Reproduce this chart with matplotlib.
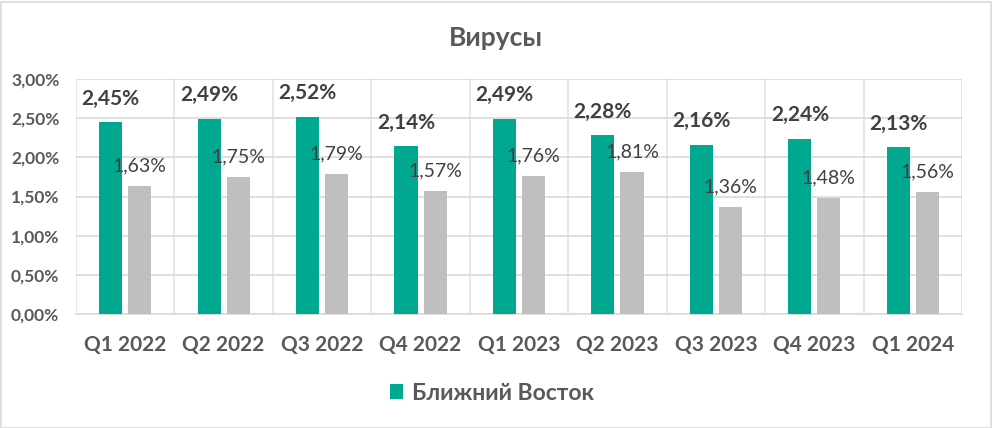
import numpy as np
import matplotlib
matplotlib.use("Agg")
import matplotlib.pyplot as plt
from matplotlib.patches import Rectangle

categories = ["Q1 2022", "Q2 2022", "Q3 2022", "Q4 2022", "Q1 2023",
              "Q2 2023", "Q3 2023", "Q4 2023", "Q1 2024"]
near_east = [2.45, 2.49, 2.52, 2.14, 2.49, 2.28, 2.16, 2.24, 2.13]
other = [1.63, 1.75, 1.79, 1.57, 1.76, 1.81, 1.36, 1.48, 1.56]
yticks = [0, 0.5, 1.0, 1.5, 2.0, 2.5, 3.0]

TEAL = "#00A88F"
GREY = "#BFBFBF"
TXT = "#404040"
AX = "#595959"

plt.rcParams["font.family"] = ["Lato", "DejaVu Sans"]

fig = plt.figure(figsize=(9.92, 4.28), dpi=100)
ax = fig.add_axes([76 / 992, 1 - 314 / 428, 886 / 992, 235 / 428])

x = np.arange(len(categories))
w = 0.235
gap = 0.03
ax.bar(x - w / 2 - gap, near_east, width=w, color=TEAL, zorder=3, label="Ближний Восток")
ax.bar(x + w / 2 + gap, other, width=w, color=GREY, zorder=3)

for xi, v in zip(x, near_east):
    ax.annotate(f"{v:.2f}%".replace(".", ","), (xi - w / 2 - gap, v), xytext=(0, 17),
                textcoords="offset points", ha="center", va="center",
                fontsize=15, fontweight="bold", color=TXT)
for xi, v in zip(x, other):
    ax.annotate(f"{v:.2f}%".replace(".", ","), (xi + w / 2 + gap, v), xytext=(0, 14.5),
                textcoords="offset points", ha="center", va="center",
                fontsize=14, color=TXT)

ax.set_xlim(-0.5, len(categories) - 0.5)
ax.set_ylim(0, 3.0)
ax.set_yticks(yticks)
ax.set_yticklabels([f"{t:.2f}%".replace(".", ",") for t in yticks],
                   fontsize=12.5, fontweight="bold", color=AX)
ax.set_xticks(x)
ax.set_xticklabels(categories, fontsize=15, fontweight="bold", color=AX)
ax.set_xticks(np.arange(len(categories) + 1) - 0.5, minor=True)
ax.tick_params(axis="both", which="both", length=0)
ax.tick_params(axis="x", pad=15)
ax.tick_params(axis="y", pad=12)
ax.grid(axis="y", color="#D9D9D9", lw=1.2, zorder=0)
ax.grid(axis="x", which="minor", color="#E3E3E3", lw=1.2, zorder=0)
for s in ["top", "right", "left"]:
    ax.spines[s].set_visible(False)
ax.spines["bottom"].set_color("#D9D9D9")
ax.spines["bottom"].set_linewidth(1.2)

fig.text(0.5, 1 - 38 / 428, "Вирусы", ha="center", va="center",
         fontsize=19, fontweight="bold", color=AX)

leg = fig.legend(loc="center", bbox_to_anchor=(492 / 992, 1 - 393 / 428), frameon=False,
                 prop={"size": 16.5, "weight": "bold"}, handlelength=0.6, handleheight=0.6,
                 handletextpad=0.4)
for t in leg.get_texts():
    t.set_color(AX)

fig.patches.append(Rectangle((0.5 / 992, 0.5 / 428), 990 / 992, 426 / 428,
                             transform=fig.transFigure, fill=False,
                             edgecolor="#D9D9D9", lw=1.2))

fig.savefig("out.png", dpi=100)
